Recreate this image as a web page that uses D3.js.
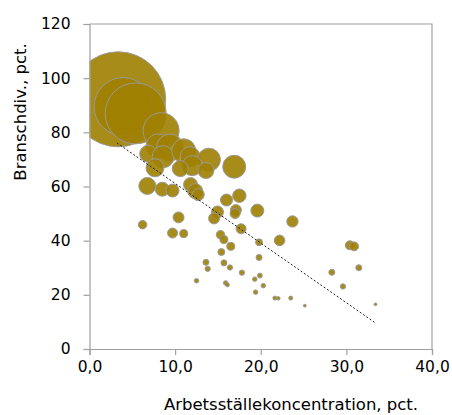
<!DOCTYPE html>
<html><head><meta charset="utf-8">
<script src="https://cdn.jsdelivr.net/npm/d3@7"></script>
<style>
body{margin:0;background:#fff;}
svg{display:block;}
text{font-family:"DejaVu Sans",sans-serif;fill:#000;}
</style></head><body>
<svg id="c" width="452" height="415"></svg>
<script>
// Data: Arbetsställekoncentration (x), Branschdiversitet (y), weight (bubble size)
const concentration = [3.35,3.93,5.39,8.36,8.0,9.4,6.85,8.6,11.0,11.75,13.95,12.0,13.6,7.65,10.6,16.9,
  6.75,8.5,9.7,11.8,12.35,12.7,16.0,17.5,14.95,14.55,17.1,17.0,19.6,23.7,6.2,10.4,9.7,11.0,17.7,15.3,15.7,16.5,19.8,22.2,
  15.4,19.8,13.6,13.8,15.7,16.4,17.8,19.9,19.3,20.3,19.4,12.5,15.9,16.1,30.4,30.9,28.3,31.45,29.6,21.65,22.05,23.5,25.15,33.4];
const diversity = [92.2,89.5,87.0,80.6,75.0,74.4,72.1,71.0,73.2,71.0,69.9,67.7,65.9,66.9,66.6,67.3,
  60.2,59.0,58.5,60.7,58.3,57.0,55.0,56.6,50.6,48.2,51.3,50.0,51.1,47.1,45.9,48.6,42.8,42.6,44.4,42.2,40.4,37.9,39.4,40.1,
  35.8,33.8,32.0,29.6,31.8,30.1,28.2,27.1,25.8,23.4,21.0,25.2,24.4,23.7,38.3,37.9,28.3,30.0,23.1,18.8,18.7,18.8,16.0,16.5];
const weight = [2256,841,930,324,144,182,72,121,144,100,132,100,64,81,64,132,
  72,49,42,49,56,36,36,45,36,30,30,25,42,32,18,30,25,16,25,18,16,16,12,28,
  12,9,9,7,9,7,7,6,5,5,5,5,5,4,20,20,9,9,7,4,3,4,2,2];
const trendX = [3.2, 33.4];
const trendY = [76.1, 9.6];
const xTicks = [0,10,20,30,40];
const yTicks = [0,20,40,60,80,100,120];
const xTitle = "Arbetsställekoncentration, pct.";
const yTitle = "Branschdiv., pct.";

const svg = d3.select("#c");
const L = 89.5, R = 432, T = 24, B = 349;
const x = d3.scaleLinear().domain([0,40]).range([L,R]);
const y = d3.scaleLinear().domain([0,120]).range([B,T]);
const r = d3.scaleSqrt().domain([0, d3.max(weight)]).range([0, 47.5]);
const fmt = d3.format(".1f");

svg.append("defs").append("clipPath").attr("id","plot")
  .append("rect").attr("x",L).attr("y",T).attr("width",R-L).attr("height",B-T);

// frame (top, right)
svg.append("path").attr("d",`M${L},${T}H${R}V${B}`).attr("fill","none").attr("stroke","#a0a0a0").attr("stroke-width",1.2);

const data = concentration.map((c,i)=>({x:c,y:diversity[i],w:weight[i]}));
svg.append("g").attr("clip-path","url(#plot)").selectAll("circle").data(data).join("circle")
  .attr("cx",d=>x(d.x)).attr("cy",d=>y(d.y)).attr("r",d=>r(d.w))
  .attr("fill","#9E8000").attr("fill-opacity",0.9)
  .attr("stroke","#9a9a9a").attr("stroke-width",1);

// trend line
svg.append("line")
  .attr("x1",x(trendX[0])).attr("y1",y(trendY[0]))
  .attr("x2",x(trendX[1])).attr("y2",y(trendY[1]))
  .attr("stroke","#222").attr("stroke-width",1).attr("stroke-dasharray","2,2");

// axes
const gx = svg.append("g").attr("transform",`translate(0,${B})`)
  .call(d3.axisBottom(x).tickValues(xTicks).tickFormat(d=>fmt(d).replace(".",",")).tickSize(6).tickPadding(6));
const gy = svg.append("g").attr("transform",`translate(${L},0)`)
  .call(d3.axisLeft(y).tickValues(yTicks).tickSize(6).tickPadding(13));
[gx,gy].forEach(g=>{
  g.select(".domain").attr("stroke","#a0a0a0").attr("stroke-width",1.2);
  g.selectAll(".tick line").attr("stroke","#a0a0a0").attr("stroke-width",1.2);
  g.selectAll(".tick text").attr("font-size",15.5).attr("font-family","DejaVu Sans, sans-serif").attr("fill","#000");
});

svg.append("text").attr("x",291).attr("y",410).attr("text-anchor","middle").attr("font-size",16.5).text(xTitle);
svg.append("text").attr("transform","translate(26,112) rotate(-90)").attr("text-anchor","middle").attr("font-size",16.5).text(yTitle);
</script>
</body></html>
